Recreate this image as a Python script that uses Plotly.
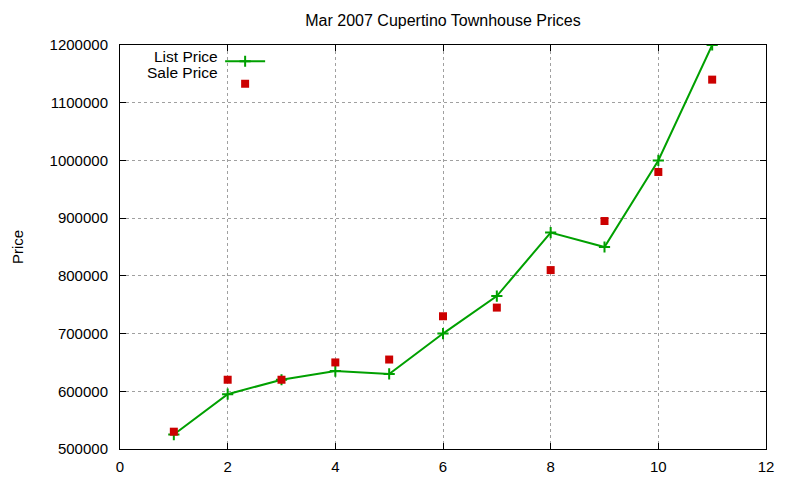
import plotly.graph_objects as go

# house number (x) vs price
house = [1, 2, 3, 4, 5, 6, 7, 8, 9, 10, 11]
list_price = [525000, 595000, 620000, 635000, 630000, 700000, 765000, 875000, 850000, 1000000, 1200000]
sale_price = [530000, 620000, 620000, 650000, 655000, 730000, 745000, 810000, 895000, 980000, 1140000]

x_ticks = [0, 2, 4, 6, 8, 10, 12]
y_ticks = [500000, 600000, 700000, 800000, 900000, 1000000, 1100000, 1200000]

font = dict(family="Liberation Sans, Arial, sans-serif", size=15, color="black")

fig = go.Figure()
fig.add_trace(go.Scatter(
    x=house, y=list_price, name="List Price", mode="lines+markers",
    line=dict(color="#00a000", width=2),
    marker=dict(symbol="cross-thin", size=8, line=dict(color="#00a000", width=2)),
))
fig.add_trace(go.Scatter(
    x=house, y=sale_price, name="Sale Price", mode="markers",
    marker=dict(symbol="square", size=8, color="#cc0000"),
))

axis_style = dict(
    showline=True, linecolor="black", linewidth=1, mirror="allticks",
    ticks="inside", ticklen=6, tickcolor="black",
    showgrid=True, gridcolor="#a0a0a0", griddash="dot", gridwidth=1,
    zeroline=False, tickfont=font, automargin=False,
)

fig.update_xaxes(range=[0, 12], tickvals=x_ticks, ticklabelstandoff=4, **axis_style)
fig.update_yaxes(range=[500000, 1200000], tickvals=y_ticks, tickformat="d", ticklabelstandoff=8,
                 **axis_style)

# page body has an 8px margin, so the figure is 8px smaller than the window
W, H = 792, 472
L, R, T, B = 112, 34, 37, 31
pw, ph = W - L - R, H - T - B

fig.update_layout(
    width=W, height=H,
    margin=dict(l=L, r=R, t=T, b=B),
    plot_bgcolor="white", paper_bgcolor="white",
    font=font,
    title=dict(text="Mar 2007 Cupertino Townhouse Prices", x=0.5, xref="paper",
               y=1 - 12 / H, yanchor="middle", font=dict(font, size=16)),
    legend=dict(x=0.155, y=1.0, xanchor="left", yanchor="top",
                bgcolor="rgba(0,0,0,0)", font=dict(color="rgba(0,0,0,0)", size=15),
                tracegroupgap=0, itemwidth=40),
    showlegend=True,
)

fig.add_annotation(text="Price", xref="paper", yref="paper", x=(9 - L) / pw, y=0.5,
                   textangle=-90, xanchor="center", yanchor="middle", showarrow=False,
                   borderpad=0, font=font)

# gnuplot puts the key text to the left of the sample
fig.add_annotation(text="List Price", xref="paper", yref="paper", x=99 / pw,
                   y=1 - 11 / ph, xanchor="right", yanchor="middle", showarrow=False,
                   borderpad=0, font=dict(font, size=15.5))
fig.add_annotation(text="Sale Price", xref="paper", yref="paper", x=99 / pw,
                   y=1 - 27 / ph, xanchor="right", yanchor="middle", showarrow=False,
                   borderpad=0, font=dict(font, size=15.5))

fig.write_html("out.html")
